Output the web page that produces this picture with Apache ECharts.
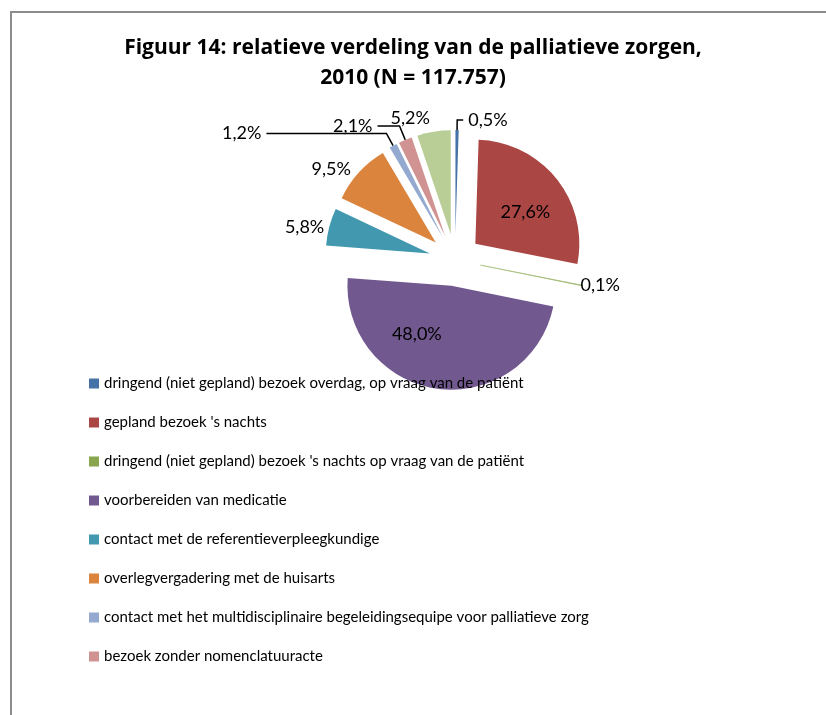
<!DOCTYPE html>
<html>
<head>
<meta charset="utf-8">
<script src="https://cdn.jsdelivr.net/npm/echarts@6/dist/echarts.min.js"></script>
<style>
html, body { margin: 0; padding: 0; background: #fff; }
#chart { width: 826px; height: 715px; }
</style>
</head>
<body>
<div id="chart"></div>
<script>
// categories (legend shows first 8 only, as in the figure)
var names = [
    'dringend (niet gepland) bezoek overdag, op vraag van de patiënt',
    'gepland bezoek \'s nachts',
    'dringend (niet gepland) bezoek \'s nachts op vraag van de patiënt',
    'voorbereiden van medicatie',
    'contact met de referentieverpleegkundige',
    'overlegvergadering met de huisarts',
    'contact met het multidisciplinaire begeleidingsequipe voor palliatieve zorg',
    'bezoek zonder nomenclatuuracte',
    'overige'
];
var shares = [0.5, 27.6, 0.1, 48.0, 5.8, 9.5, 1.2, 2.1, 5.2];
var colors = ['#4572A7', '#AA4643', '#89A54E', '#71588F', '#4198AF', '#DB843D', '#93A9CF', '#D19392', '#B9CD96'];

// label placement per slice: [position, showLine, length, length2]
var labelCfg = [
    ['outside', true, 10, 6],
    ['inside', false, 0, 0],
    ['outside', false, 0, 0],
    ['inside', false, 0, 0],
    ['outside', false, 0, 0],
    ['outside', false, 0, 0],
    ['outside', true, 14, 120],
    ['outside', true, 15, 22],
    ['outside', false, 12, 0]
];
// small nudges for labels without a leader line
var labelShift = { 1: [7, 3], 2: [-7, 0], 3: [-27, -6], 5: [-3, -3], 8: [3, -2] };

var myChart = echarts.init(document.getElementById('chart'));

var pieData = [];
for (var i = 0; i < shares.length; i++) {
    var c = labelCfg[i];
    pieData.push({
        name: names[i],
        value: shares[i],
        selected: true,
        itemStyle: {
            color: colors[i],
            borderColor: shares[i] < 0.3 ? '#A3BC76' : colors[i],
            borderWidth: shares[i] < 0.3 ? 0.6 : 0
        },
        label: { position: c[0] },
        labelLine: { show: c[1], length: c[2], length2: c[3] }
    });
}

var option = {
    animation: false,
    title: {
        text: 'Figuur 14: relatieve verdeling van de palliatieve zorgen,\n2010 (N = 117.757)',
        left: 'center',
        top: 28,
        textStyle: {
            fontFamily: 'Open Sans',
            fontSize: 21,
            fontWeight: 'bold',
            color: '#000',
            lineHeight: 30
        }
    },
    legend: {
        orient: 'vertical',
        left: 84,
        top: 371,
        icon: 'rect',
        itemWidth: 10,
        itemHeight: 10,
        itemGap: 24,
        itemStyle: { borderWidth: 0 },
        data: names.slice(0, 8),
        selectedMode: false,
        textStyle: { fontFamily: 'Lato', fontSize: 15, color: '#000' }
    },
    graphic: [{
        type: 'rect',
        shape: { x: 11, y: 12, width: 900, height: 900 },
        style: { fill: 'none', stroke: '#8c8c8c', lineWidth: 2 },
        silent: true
    }],
    series: [{
        type: 'pie',
        center: [455, 260],
        radius: 104,
        startAngle: 90,
        clockwise: true,
        selectedMode: 'multiple',
        selectedOffset: 26,
        avoidLabelOverlap: false,
        emphasis: { disabled: true },
        label: {
            show: true,
            fontFamily: 'Lato',
            fontSize: 18,
            color: '#000',
            formatter: function (p) {
                return p.value.toFixed(1).replace('.', ',') + '%';
            }
        },
        labelLine: {
            lineStyle: { color: '#000', width: 1.5 }
        },
        labelLayout: function (params) {
            var s = labelShift[params.dataIndex];
            return s ? { dx: s[0], dy: s[1] } : {};
        },
        data: pieData
    }]
};
myChart.setOption(option);
window.onresize = myChart.resize;
</script>
</body>
</html>
